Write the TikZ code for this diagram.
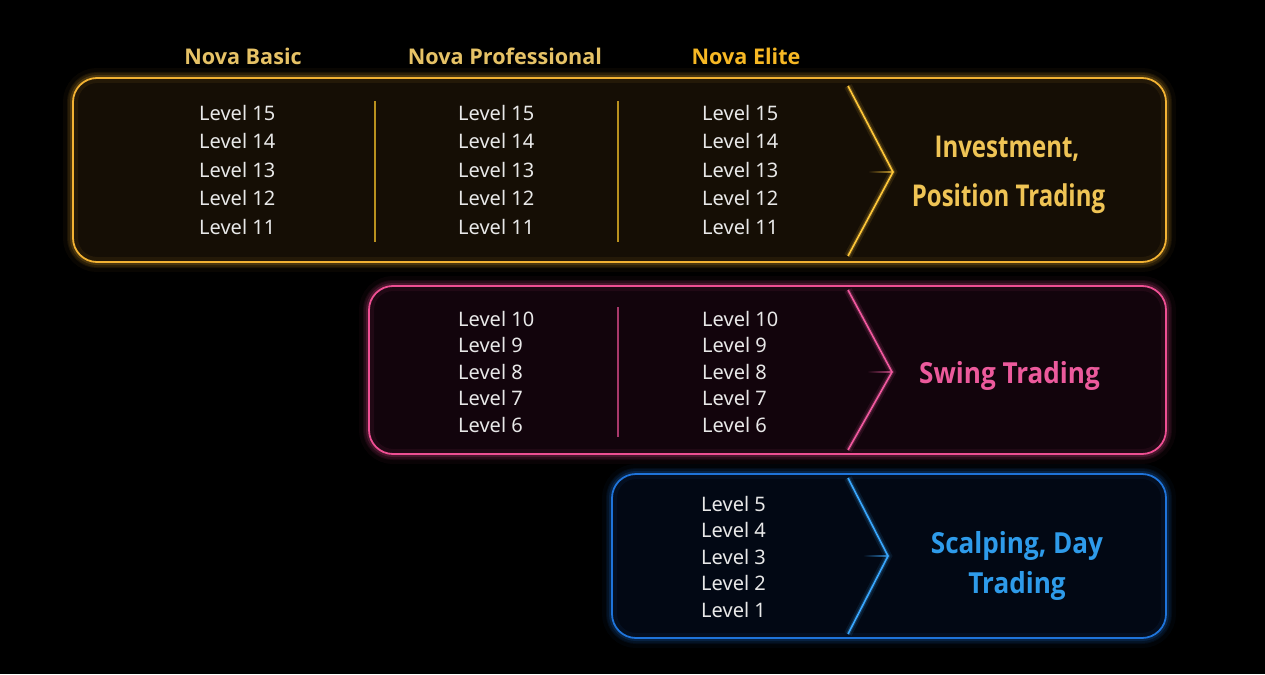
\documentclass[tikz,border=0pt]{standalone}
\usepackage{fontspec}
\setmainfont{Noto Sans}
\newfontfamily\headf{Open Sans}
\newfontfamily\labA[FakeStretch=0.8]{Open Sans}
\newfontfamily\labB[FakeStretch=0.9]{Open Sans}
\definecolor{goldline}{HTML}{F2B233}
\definecolor{goldfill}{HTML}{150E05}
\definecolor{golddiv}{HTML}{B8901E}
\definecolor{goldhead}{HTML}{E6C266}
\definecolor{elitehead}{HTML}{F7B824}
\definecolor{goldlab}{HTML}{EFC455}
\definecolor{goldchev}{HTML}{FFC83A}
\definecolor{pinkline}{HTML}{EE4F93}
\definecolor{pinkfill}{HTML}{12040C}
\definecolor{pinkdiv}{HTML}{A8386A}
\definecolor{pinklab}{HTML}{EC5A9C}
\definecolor{pinkchev}{HTML}{F25AA0}
\definecolor{blueline}{HTML}{1F74DA}
\definecolor{bluefill}{HTML}{020814}
\definecolor{bluelab}{HTML}{2E9BEA}
\definecolor{bluechev}{HTML}{3AA8FF}
\definecolor{lvltext}{HTML}{E8E8E8}
\begin{document}
\begin{tikzpicture}[x=1pt,y=-1pt,
  panel/.style n args={2}{draw=#1, fill=#2, line width=1.8pt, rounded corners=24pt, inner sep=0pt,
    preaction={draw=#1, line width=20pt, draw opacity=0.04},
    preaction={draw=#1, line width=12pt, draw opacity=0.08},
    preaction={draw=#1, line width=6pt, draw opacity=0.16},
    postaction={draw=#1, line width=10pt, draw opacity=0.07}},
  chev/.style={draw=#1, line width=1.6pt, line join=miter,
    preaction={draw=#1, line width=8pt, draw opacity=0.10},
    preaction={draw=#1, line width=4pt, draw opacity=0.22}},
  divider/.style={draw=#1, line width=1.2pt},
  lvl/.style={anchor=base west, inner sep=0pt, text=lvltext, font=\fontsize{20}{24}\selectfont},
  head/.style={anchor=base, inner sep=0pt, text=#1, font=\headf\fontsize{21.6}{26}\selectfont\bfseries},
  labgold/.style={anchor=base, inner sep=0pt, text=goldlab, font=\labA\fontsize{30}{36}\selectfont\bfseries},
  laboth/.style={anchor=base, inner sep=0pt, text=#1, font=\labB\fontsize{29}{35}\selectfont\bfseries}
]
\fill[black] (0,0) rectangle (1265,674);
\useasboundingbox (0,0) rectangle (1265,674);

% panels
\node[panel={goldline}{goldfill}, minimum width=1093pt, minimum height=184pt] (gbox) at (619.5,170) {};
\node[panel={pinkline}{pinkfill}, minimum width=797pt, minimum height=168pt] (pbox) at (767.5,370) {};
\node[panel={blueline}{bluefill}, minimum width=554pt, minimum height=164pt] (bbox) at (889,556) {};

% headings
\node[head=goldhead] (hbasic) at (243,65) {Nova Basic};
\node[head=goldhead] (hpro) at (505,65) {Nova Professional};
\node[head=elitehead] (helite) at (746,65) {Nova Elite};

% dividers
\coordinate (gd1a) at (375,101); \coordinate (gd1b) at (375,242);
\coordinate (gd2a) at (618,101); \coordinate (gd2b) at (618,242);
\coordinate (pd1a) at (618,307); \coordinate (pd1b) at (618,437);
\draw[divider=golddiv] (gd1a) -- (gd1b);
\draw[divider=golddiv] (gd2a) -- (gd2b);
\draw[divider=pinkdiv] (pd1a) -- (pd1b);

% apex flares
\shade[left color=goldfill, right color=goldchev!70!goldfill] (868,171.2) rectangle (892,172.8);
\shade[left color=pinkfill, right color=pinkchev!70!pinkfill] (867,371.2) rectangle (891,372.8);
\shade[left color=bluefill, right color=bluechev!70!bluefill] (863,555.2) rectangle (887,556.8);

% chevrons
\coordinate (gc1) at (848,86); \coordinate (gc2) at (893,172); \coordinate (gc3) at (848,256);
\coordinate (pc1) at (848,290); \coordinate (pc2) at (892,372); \coordinate (pc3) at (848,450);
\coordinate (bc1) at (848,478); \coordinate (bc2) at (888,556); \coordinate (bc3) at (848,634);
\draw[chev=goldchev] (gc1) -- (gc2) -- (gc3);
\draw[chev=pinkchev] (pc1) -- (pc2) -- (pc3);
\draw[chev=bluechev] (bc1) -- (bc2) -- (bc3);

% levels
\foreach \lv [count=\i from 0] in {15,14,13,12,11} {
  \node[lvl] (gb\lv) at (199, 120.2+28.5*\i) {Level \lv};
  \node[lvl] (gp\lv) at (458, 120.2+28.5*\i) {Level \lv};
  \node[lvl] (ge\lv) at (702, 120.2+28.5*\i) {Level \lv};
}
\foreach \lv [count=\i from 0] in {10,9,8,7,6} {
  \node[lvl] (pp\lv) at (458, 326.2+26.5*\i) {Level \lv};
  \node[lvl] (pe\lv) at (702, 326.2+26.5*\i) {Level \lv};
}
\foreach \lv [count=\i from 0] in {5,4,3,2,1} {
  \node[lvl] (be\lv) at (701, 511.2+26.5*\i) {Level \lv};
}

% labels
\node[labgold] (glab1) at (1007,157) {Investment,};
\node[labgold] (glab2) at (1008.5,206) {Position Trading};
\node[laboth=pinklab] (plab) at (1009.5,383.5) {Swing Trading};
\node[laboth=bluelab] (blab1) at (1017,553.5) {Scalping, Day};
\node[laboth=bluelab] (blab2) at (1017,593.5) {Trading};
\end{tikzpicture}
\end{document}
